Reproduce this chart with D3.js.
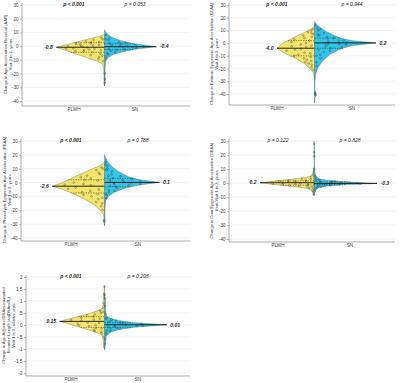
<!DOCTYPE html>
<html>
<head>
<meta charset="utf-8">
<script src="https://cdn.jsdelivr.net/npm/d3@7"></script>
<style>
  body { margin: 0; background: #fff; }
  svg { display: block; }
  svg text { font-family: 'Liberation Sans', Arial, sans-serif; }
</style>
</head>
<body>
<svg id="chart" width="400" height="383"></svg>
<script>
// ---- data ----
const groups = ["PLWH", "SN"];

const yTitles = [
  ["Change in Age Acceleration Residual (AAR)", "Visit 1 to 2, years"],
  ["Change in Extrinsic Epigenetic Age Acceleration (EEAA)", "Visit 1 to 2, years"],
  ["Change in Phenotypic Epigenetic Age Acceleration (PEAA)", "Visit 1 to 2, years"],
  ["Change in Grim Epigenetic Age Acceleration (GEAA)", "from Visit 1 to 2, years"],
  ["Change in Age-Adjusted DNAm-estimated", "Telomere Length (adjDNAmTL)", "Visit 1 to 2, relative units"]
];

const yTicks = [
  [30, 20, 10, 0, -10, -20, -30, -40],
  [30, 20, 10, 0, -10, -20, -30, -40],
  [30, 20, 10, 0, -10, -20, -30, -40],
  [30, 20, 10, 0, -10, -20, -30, -40],
  [2, 1.5, 1, 0.5, 0, -0.5, -1, -1.5, -2]
];
const yTickLabels = [
  ["30", "20", "10", "0", "-10", "-20", "-30", "-40"],
  ["30", "20", "10", "0", "-10", "-20", "-30", "-40"],
  ["30", "20", "10", "0", "-10", "-20", "-30", "-40"],
  ["30", "20", "10", "0", "-10", "-20", "-30", "-40"],
  ["2", "1.5", "1", ".5", "0", "-.5", "-1", "-1.5", "-2"]
];

const pLabels = [
  ["p < 0.001", "p = 0.053"],
  ["p < 0.001", "p = 0.944"],
  ["p < 0.001", "p = 0.788"],
  ["p = 0.122", "p = 0.828"],
  ["p < 0.001", "p = 0.208"]
];

const medians = [[-0.8, -0.4], [-4.0, 0.2], [-2.6, 0.1], [0.2, -0.3], [0.15, 0.01]];
const medianLabels = [["-0.8", "-0.4"], ["-4.0", "0.2"], ["-2.6", "0.1"], ["0.2", "-0.3"], ["0.15", "0.01"]];
const quartiles = [
  [[-4.5, 2.5], [-2.5, 1.8]],
  [[-10, 2], [-4, 4]],
  [[-7.5, 2], [-3, 3]],
  [[-1.5, 1.5], [-1.2, 0.7]],
  [[-0.1, 0.35], [-0.1, 0.1]]
];

// peak half-width of each violin, in category units
const peakWidth = [[0.79, 0.85], [0.5, 0.82], [0.78, 0.82], [0.75, 0.875], [0.67, 0.93]];

// density profiles [value, relative density]
const densAAR_PLWH = [[9,0],[8,0.03],[6,0.24],[4,0.47],[2,0.69],[-0.8,1],[-4,0.73],[-8,0.4],[-11,0.15],[-13,0.04],[-16,0.015],[-22,0.01],[-27,0.008],[-29,0]];
const densAAR_SN = [[12,0],[10,0.03],[8,0.08],[6,0.17],[4,0.32],[2,0.55],[-0.4,1],[-2,0.62],[-4,0.36],[-6,0.18],[-8,0.08],[-10,0.035],[-12,0.02],[-16,0.012],[-22,0.012],[-26,0.015],[-29,0]];
const densEEAA_PLWH = [[14,0],[13,0.02],[11,0.1],[8,0.3],[4,0.58],[0,0.85],[-4,1],[-8,0.8],[-12,0.5],[-16,0.28],[-20,0.12],[-23,0.04],[-26,0.01],[-28,0]];
const densEEAA_SN = [[17,0],[15,0.03],[12,0.1],[9,0.2],[6,0.32],[4,0.42],[2,0.6],[0.2,1],[-2,0.6],[-5,0.4],[-9,0.25],[-14,0.13],[-19,0.06],[-24,0.02],[-30,0.008],[-37,0.008],[-40,0.03],[-43,0.01],[-47,0]];
const densPEAA_PLWH = [[15,0],[14,0.02],[12,0.1],[8,0.35],[4,0.58],[0,0.8],[-2.6,1],[-5,0.8],[-8,0.6],[-12,0.38],[-16,0.2],[-20,0.08],[-23,0.02],[-26,0.01],[-28,0.02],[-31,0]];
const densPEAA_SN = [[20,0],[18,0.02],[15,0.06],[12,0.12],[8,0.25],[4,0.45],[2,0.65],[0.1,1],[-2,0.6],[-4,0.38],[-7,0.18],[-10,0.07],[-13,0.025],[-18,0.01],[-24,0.008],[-28,0.012],[-31,0]];
const densGEAA_PLWH = [[11,0],[9,0.01],[7,0.02],[5,0.06],[4,0.15],[3,0.35],[2,0.6],[1,0.82],[0.2,1],[-1,0.75],[-2,0.5],[-3,0.28],[-4,0.12],[-5,0.05],[-7,0.02],[-9,0]];
const densGEAA_SN = [[30,0],[28,0.006],[20,0.006],[12,0.008],[8,0.015],[5,0.03],[3,0.08],[2,0.2],[1,0.45],[-0.3,1],[-1.3,0.45],[-2.3,0.2],[-3.3,0.08],[-5,0.03],[-7,0.01],[-9,0]];
const densTL_PLWH = [[1.65,0],[1.3,0.015],[1,0.025],[0.8,0.04],[0.65,0.07],[0.5,0.3],[0.4,0.5],[0.3,0.7],[0.15,1],[0,0.72],[-0.1,0.54],[-0.2,0.36],[-0.3,0.2],[-0.4,0.06],[-0.6,0.03],[-0.8,0.02],[-1,0]];
const densTL_SN = [[1.3,0],[1.1,0.012],[0.8,0.015],[0.6,0.02],[0.4,0.03],[0.3,0.08],[0.2,0.2],[0.1,0.45],[0.01,1],[-0.1,0.45],[-0.2,0.22],[-0.3,0.1],[-0.45,0.03],[-0.7,0.015],[-0.9,0.01],[-1.05,0]];

// jittered observations [value, jitter fraction of local width]
const ptsAAR_PLWH = [[6,0.3],[4.5,0.6],[3,0.2],[3.5,0.8],[2,0.45],[1.2,0.7],[0.5,0.3],[0,0.9],[-0.5,0.5],[-1.5,0.75],[-2,0.25],[-2.8,0.55],[-3.5,0.85],[-4.5,0.4],[-5.5,0.15],[-6.5,0.6],[-8,0.3],[-9.5,0.5],[-11,0.2],[-1,0.4],[1.8,0.9],[-3,0.1],[5,0.1],[2.8,0.5],[0.8,0.15],[-1.8,0.95],[-4,0.65],[-7,0.1],[0.3,0.6],[-2.4,0.4]];
const ptsAAR_SN = [[8,0.4],[6,0.6],[4.5,0.3],[3,0.7],[2,0.2],[1.3,0.5],[0.6,0.8],[0,0.35],[-0.8,0.65],[-1.5,0.9],[-2,0.15],[-2.8,0.5],[-3.5,0.3],[-4.5,0.7],[-6,0.45],[-7.5,0.3],[-9,0.6],[-24,0.5],[-27,0.8],[-20,0.3],[5,0.1],[2.5,0.9],[0.9,0.2],[-1,0.45],[-2.4,0.75],[-5,0.2],[0.3,0.55],[-0.2,0.85]];
const ptsEEAA_PLWH = [[11,0.4],[10,0.6],[8,0.3],[6,0.75],[4,0.5],[2,0.2],[1,0.85],[-1,0.45],[-2.5,0.7],[-3,0.25],[-5,0.6],[-6,0.9],[-7.5,0.35],[-9,0.65],[-11,0.2],[-13,0.5],[-15,0.8],[-17,0.35],[-19,0.55],[-21,0.3],[0,0.3],[5,0.15],[9,0.8],[7,0.1],[3,0.9],[-2,0.1],[-4.5,0.4],[-8,0.15],[-10,0.9],[-12,0.6],[-14,0.25],[-16,0.6]];
const ptsEEAA_SN = [[14,0.3],[12,0.5],[10,0.4],[8,0.7],[6,0.25],[5,0.6],[3,0.45],[2,0.85],[1,0.3],[0.5,0.6],[-0.5,0.5],[-1.5,0.8],[-2.5,0.35],[-4,0.6],[-5.5,0.2],[-7,0.5],[-9,0.4],[-12,0.6],[-15,0.3],[-40,0.4],[-41,0.7],[-39,0.2],[11,0.8],[7,0.2],[4,0.8],[1.5,0.6],[0,0.2],[-1,0.3],[-3,0.9],[-6,0.75],[-10,0.15],[-18,0.5]];
const ptsPEAA_PLWH = [[11,0.4],[9,0.6],[7,0.3],[5,0.7],[3,0.45],[1.5,0.2],[0,0.8],[-1,0.5],[-2,0.3],[-3.5,0.65],[-4.5,0.9],[-6,0.4],[-7,0.7],[-8.5,0.25],[-10,0.55],[-12,0.35],[-14,0.6],[-17,0.4],[-20,0.5],[-28,0.4],[-27,0.7],[10,0.15],[6,0.2],[4,0.85],[2,0.6],[-1.5,0.9],[-5,0.15],[-9,0.8],[-11,0.1],[-15,0.2]];
const ptsPEAA_SN = [[15,0.4],[12,0.5],[10,0.3],[8,0.6],[6,0.4],[4.5,0.75],[3,0.3],[2,0.55],[1,0.85],[0.4,0.4],[-0.5,0.6],[-1.2,0.25],[-2,0.8],[-3,0.45],[-4,0.65],[-5.5,0.3],[-7,0.5],[-9,0.4],[-11,0.6],[13,0.2],[9,0.15],[5,0.2],[2.5,0.9],[1.5,0.15],[-0.2,0.2],[-1,0.9],[-2.5,0.2],[-6,0.8],[-8,0.15]];
const ptsGEAA_PLWH = [[8,0.3],[6,0.5],[4,0.4],[3,0.7],[2.2,0.3],[1.5,0.55],[1,0.85],[0.6,0.4],[0.3,0.65],[-0.2,0.3],[-0.6,0.75],[-1,0.5],[-1.5,0.2],[-2,0.6],[-2.5,0.35],[-3.5,0.5],[-4.5,0.3],[-6,0.5],[-8,0.4],[2.6,0.15],[1.8,0.8],[1.2,0.2],[0.8,0.6],[-0.4,0.95],[-0.9,0.15],[-1.8,0.9],[-3,0.15]];
const ptsGEAA_SN = [[28,0.5],[22,0.4],[19,0.6],[10,0.4],[5,0.5],[3.5,0.4],[2.5,0.6],[1.5,0.3],[1,0.7],[0.5,0.45],[0,0.85],[-0.5,0.3],[-0.8,0.6],[-1.2,0.4],[-1.6,0.75],[-2.2,0.3],[-3,0.5],[-4,0.4],[-6,0.5],[2,0.15],[1.2,0.9],[0.7,0.2],[0.2,0.6],[-0.6,0.95],[-1,0.15],[-1.8,0.5],[-2.6,0.7]];
const ptsTL_PLWH = [[1.6,0.5],[1.3,0.4],[0.9,0.5],[0.7,0.4],[0.6,0.7],[0.5,0.3],[0.45,0.6],[0.35,0.45],[0.3,0.8],[0.22,0.3],[0.18,0.6],[0.1,0.45],[0.05,0.8],[0,0.3],[-0.05,0.6],[-0.12,0.4],[-0.2,0.7],[-0.28,0.35],[-0.35,0.5],[-0.5,0.4],[-0.9,0.5],[0.55,0.15],[0.4,0.85],[0.26,0.15],[0.2,0.9],[0.08,0.15],[-0.02,0.9],[-0.15,0.15],[-0.25,0.85]];
const ptsTL_SN = [[1.25,0.5],[1.1,0.4],[0.8,0.5],[0.45,0.5],[0.3,0.4],[0.22,0.7],[0.15,0.3],[0.1,0.6],[0.05,0.85],[0.02,0.4],[-0.03,0.7],[-0.07,0.3],[-0.12,0.55],[-0.18,0.4],[-0.25,0.6],[-0.32,0.3],[-0.4,0.5],[-0.8,0.5],[-0.6,0.4],[0.25,0.2],[0.18,0.8],[0.12,0.15],[0.07,0.5],[-0.01,0.2],[-0.05,0.95],[-0.1,0.15],[-0.15,0.8],[-0.22,0.2]];

const densities = [
  [densAAR_PLWH, densAAR_SN], [densEEAA_PLWH, densEEAA_SN], [densPEAA_PLWH, densPEAA_SN],
  [densGEAA_PLWH, densGEAA_SN], [densTL_PLWH, densTL_SN]
];
const points = [
  [ptsAAR_PLWH, ptsAAR_SN], [ptsEEAA_PLWH, ptsEEAA_SN], [ptsPEAA_PLWH, ptsPEAA_SN],
  [ptsGEAA_PLWH, ptsGEAA_SN], [ptsTL_PLWH, ptsTL_SN]
];

// ---- layout ----
const colors = ["#f3e46c", "#33c3e6"];
// tTop/tBot = pixel of first/last tick, top/bot = plot frame
const layout = [
  { x0: 22, x1: 190, top: 3, bot: 106, tTop: 5, tBot: 101, cats: [74, 135], titleX: [5, 10] },
  { x0: 229, x1: 395, top: 3, bot: 105, tTop: 5, tBot: 94, cats: [277, 352], titleX: [211, 216] },
  { x0: 21, x1: 190, top: 139, bot: 241, tTop: 141, tBot: 238, cats: [71, 138], titleX: [4, 9] },
  { x0: 229, x1: 395, top: 139, bot: 242, tTop: 141, tBot: 239, cats: [278, 350], titleX: [211, 216] },
  { x0: 26, x1: 190, top: 275, bot: 376, tTop: 277, tBot: 373, cats: [71, 138], titleX: [3, 8, 13] }
];

const svg = d3.select("#chart");

function densAt(profile, v) {
  // profile is sorted by descending value
  if (v >= profile[0][0] || v <= profile[profile.length - 1][0]) return 0;
  for (let i = 0; i < profile.length - 1; i++) {
    const a = profile[i], b = profile[i + 1];
    if (v <= a[0] && v >= b[0]) {
      const t = (a[0] - v) / (a[0] - b[0]);
      return a[1] + t * (b[1] - a[1]);
    }
  }
  return 0;
}

layout.forEach((L, i) => {
  const g = svg.append("g");
  const ticks = yTicks[i];
  const y = d3.scaleLinear().domain([ticks[0], ticks[ticks.length - 1]]).range([L.tTop, L.tBot]);
  const x = d3.scaleLinear().domain([1, 2]).range(L.cats);
  const center = 1.5;

  // gridlines
  g.selectAll("line.grid").data(ticks).join("line")
    .attr("class", "grid")
    .attr("x1", L.x0).attr("x2", L.x1)
    .attr("y1", d => y(d)).attr("y2", d => y(d))
    .attr("stroke", "#ececec").attr("stroke-width", 0.6);

  // y axis
  const ya = g.append("g").attr("transform", `translate(${L.x0},0)`)
    .call(d3.axisLeft(y).tickValues(ticks).tickFormat((d, j) => yTickLabels[i][j]).tickSize(2).tickPadding(1.5));
  ya.attr("font-family", null);
  ya.select(".domain").remove();
  ya.selectAll("line").attr("stroke", "#777").attr("stroke-width", 0.5);
  ya.selectAll("text").attr("font-size", 4.6).attr("fill", "#444");
  g.append("line").attr("x1", L.x0).attr("x2", L.x0).attr("y1", L.top).attr("y2", L.bot)
    .attr("stroke", "#777").attr("stroke-width", 0.6);

  // x axis
  g.append("line").attr("x1", L.x0).attr("x2", L.x1).attr("y1", L.bot).attr("y2", L.bot)
    .attr("stroke", "#777").attr("stroke-width", 0.6);
  g.selectAll("text.cat").data(groups).join("text")
    .attr("class", "cat")
    .attr("x", (d, k) => x(k + 1)).attr("y", L.bot + 5.2)
    .attr("text-anchor", "middle").attr("font-size", 4.6).attr("fill", "#444")
    .text(d => d);

  // y title
  const midY = (L.top + L.bot) / 2;
  yTitles[i].forEach((t, j) => {
    g.append("text")
      .attr("transform", `translate(${L.titleX[j] + 1.5},${midY}) rotate(-90)`)
      .attr("text-anchor", "middle").attr("font-size", 4.1).attr("fill", "#333")
      .text(t);
  });

  // violins
  groups.forEach((grp, k) => {
    const sign = k === 0 ? -1 : 1;
    const peak = peakWidth[i][k];
    const prof = densities[i][k];
    const area = d3.area()
      .y(d => y(d[0]))
      .x0(x(center))
      .x1(d => x(center + sign * peak * d[1]));
    g.append("path").datum(prof)
      .attr("d", area)
      .attr("fill", colors[k])
      .attr("stroke", "#5a5a4a").attr("stroke-width", 0.35);

    // quartile lines
    quartiles[i][k].forEach(q => {
      g.append("line")
        .attr("x1", x(center)).attr("x2", x(center + sign * peak * densAt(prof, q)))
        .attr("y1", y(q)).attr("y2", y(q))
        .attr("stroke", "#222").attr("stroke-width", 0.45).attr("stroke-dasharray", "1.5,1");
    });

    // points
    g.selectAll(null).data(points[i][k]).join("circle")
      .attr("cx", d => x(center + sign * peak * densAt(prof, d[0]) * d[1] * 0.92))
      .attr("cy", d => y(d[0]))
      .attr("r", 0.9)
      .attr("fill", "none").attr("stroke", "#333").attr("stroke-width", 0.35);

    // median line and label
    const m = medians[i][k];
    g.append("line")
      .attr("x1", x(center)).attr("x2", x(center + sign * peak))
      .attr("y1", y(m)).attr("y2", y(m))
      .attr("stroke", "#111").attr("stroke-width", 0.9);
    g.append("text")
      .attr("x", x(center + sign * peak) + sign * 3.5)
      .attr("y", y(m)).attr("dy", "0.35em")
      .attr("text-anchor", k === 0 ? "end" : "start")
      .attr("font-size", 5).attr("font-weight", "bold").attr("font-style", "italic").attr("fill", "#222")
      .text(medianLabels[i][k]);

    // p label
    const p = pLabels[i][k];
    g.append("text")
      .attr("x", x(k + 1)).attr("y", L.tTop + 1)
      .attr("text-anchor", "middle")
      .attr("font-size", 5).attr("font-style", "italic")
      .attr("font-weight", p.includes("<") ? "bold" : "normal")
      .attr("fill", "#222")
      .text(p);
  });
});
</script>
</body>
</html>
